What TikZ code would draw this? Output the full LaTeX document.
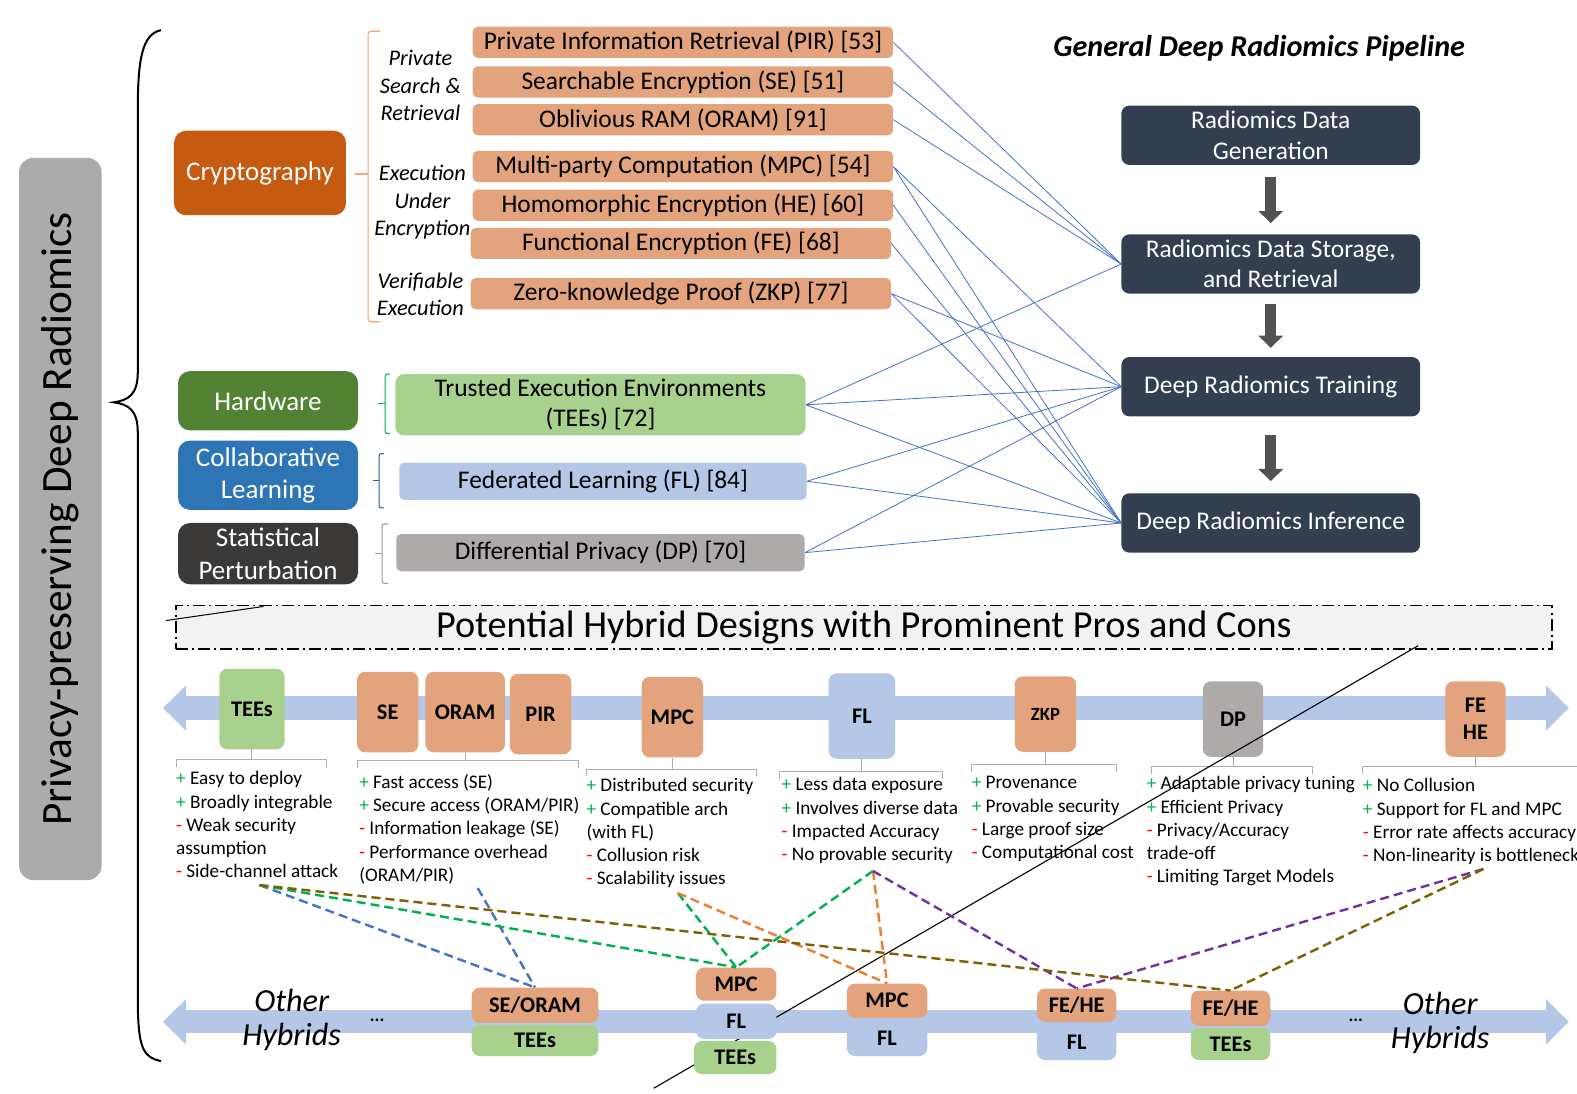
\documentclass[tikz,border=0pt]{standalone}
\usepackage{fontspec}
\setmainfont{Carlito}
\usetikzlibrary{arrows.meta,positioning,calc}
\definecolor{rdCrypto}{HTML}{C55A11}
\definecolor{rdOrange}{HTML}{E3A47D}
\definecolor{rdBrk}{HTML}{F4A46E}
\definecolor{rdHw}{HTML}{548235}
\definecolor{rdCollab}{HTML}{2E75B6}
\definecolor{rdStat}{HTML}{3B3838}
\definecolor{rdGreen}{HTML}{A9D18E}
\definecolor{rdBlue}{HTML}{B4C7E7}
\definecolor{rdGray}{HTML}{AEAAAA}
\definecolor{rdNavy}{HTML}{333F50}
\definecolor{rdLink}{HTML}{4472C4}
\definecolor{rdPlus}{HTML}{00B050}
\definecolor{rdMinus}{HTML}{FF0000}
\definecolor{rdPurple}{HTML}{7030A0}
\definecolor{rdOlive}{HTML}{7F6000}
\definecolor{rdAmber}{HTML}{ED7D31}
\definecolor{rdSide}{HTML}{ABABAB}
\definecolor{rdHdr}{HTML}{F2F2F2}
\newcommand{\pro}{\textcolor{rdPlus}{+}\ }
\newcommand{\con}{\textcolor{rdMinus}{-}\ }

\begin{document}
\begin{tikzpicture}[
  x=1pt, y=-1pt, font=\fontsize{25.3}{30}\selectfont,
  side/.style={rounded corners=14pt,fill=rdSide,minimum width=718pt,minimum height=82pt,
               rotate=90,inner sep=0pt,font=\fontsize{43}{50}\selectfont},
  cat/.style={rounded corners=12pt,text=white,align=center,inner sep=0pt,minimum width=179pt,
              font=\fontsize{26.8}{32}\selectfont},
  tech/.style={rounded corners=5pt,fill=rdOrange,minimum width=418pt,minimum height=31pt,inner sep=0pt},
  grp/.style={align=center,font=\fontsize{22.2}{27}\selectfont\itshape},
  pipe/.style={rounded corners=8pt,fill=rdNavy,text=white,align=center,minimum width=297pt,
               minimum height=59pt,inner sep=0pt},
  pflow/.style={line width=11pt,draw=black!68,-{Triangle[width=24pt,length=12pt]}},
  link/.style={draw=rdLink,line width=0.8pt},
  flow/.style={line width=23pt,draw=rdBlue,
               {Triangle[width=44pt,length=23pt]}-{Triangle[width=44pt,length=23pt]}},
  hdr/.style={fill=rdHdr,draw=black,line width=1.8pt,dash pattern=on 12pt off 4pt on 2pt off 4pt,
              minimum width=1368pt,minimum height=43pt,inner sep=0pt,font=\fontsize{38}{44}\selectfont},
  chip/.style={rounded corners=8pt,inner sep=0pt,align=center,font=\fontsize{22.2}{27}\selectfont\bfseries},
  brk/.style={draw=black!32,line width=1pt},
  pc/.style={anchor=north west,inner sep=0pt,align=left,font=\fontsize{19.1}{23}\selectfont},
  hyb/.style={line width=2.4pt,dash pattern=on 9pt off 5pt},
  oth/.style={align=center,font=\fontsize{32}{34}\selectfont\itshape},
]
\useasboundingbox (0,0) rectangle (1568,1087);

% left title and brace
\node[side] (title) at (60,516) {Privacy-preserving Deep Radiomics};
\draw[line width=2pt] (160,30) .. controls (141,34) and (137,60) .. (137,110) -- (137,370)
  .. controls (137,392) and (128,398) .. (113,400) .. controls (128,402) and (137,408) .. (137,430)
  -- (137,990) .. controls (137,1040) and (141,1051) .. (160,1055);

% categories
\node[cat,fill=rdCrypto,minimum width=171pt,minimum height=84pt] (crypto) at (258.5,172) {Cryptography};
\node[cat,fill=rdHw,minimum height=59pt] (hw) at (266.5,398.5) {Hardware};
\node[cat,fill=rdCollab,minimum height=69pt] (collab) at (266.5,472.5) {Collaborative\\Learning};
\node[cat,fill=rdStat,minimum height=61pt] (stat) at (266.5,550.5) {Statistical\\Perturbation};

% brackets
\draw[rdBrk,line width=1.2pt,rounded corners=3pt] (378,31) -- (366,31) -- (366,320) -- (378,320);
\draw[rdBrk,line width=1.2pt] (366,173) -- (353,173);
\draw[rdPlus,line width=1pt,rounded corners=2pt] (388,372) -- (383,372) -- (383,431) -- (388,431);
\draw[rdPlus,line width=1pt] (383,401) -- (376,401);
\draw[rdCollab!80!black,line width=1pt,rounded corners=2pt] (382,451) -- (377,451) -- (377,505) -- (382,505);
\draw[rdCollab!80!black,line width=1pt] (377,478) -- (371,478);
\draw[black!40,line width=1pt,rounded corners=2pt] (386,521) -- (380,521) -- (380,580) -- (386,580);
\draw[black!40,line width=1pt] (380,550) -- (373,550);

\node[grp] (gSearch) at (418,85) {Private\\Search \&\\Retrieval};
\node[grp] (gExec) at (420,201) {Execution\\Under\\Encryption};
\node[grp] (gVerif) at (418,293) {Verifiable\\Execution};

% techniques
\node[tech] (pir)  at (679,42)  {Private Information Retrieval (PIR) [53]};
\node[tech] (se)   at (679,81.5) {Searchable Encryption (SE) [51]};
\node[tech] (oram) at (679,119) {Oblivious RAM (ORAM) [91]};
\node[tech] (mpc)  at (679,165.5) {Multi-party Computation (MPC) [54]};
\node[tech] (he)   at (679,204) {Homomorphic Encryption (HE) [60]};
\node[tech] (fe)   at (677,242) {Functional Encryption (FE) [68]};
\node[tech] (zkp)  at (677,292) {Zero-knowledge Proof (ZKP) [77]};
\node[tech,fill=rdGreen,minimum width=408pt,minimum height=61pt,align=center,rounded corners=9pt]
  (tee) at (597,402.5) {Trusted Execution Environments\\(TEEs) [72]};
\node[tech,fill=rdBlue,minimum width=405pt,minimum height=37pt] (fl) at (599.5,478.5) {Federated Learning (FL) [84]};
\node[tech,fill=rdGray,minimum width=406pt,minimum height=37pt] (dp) at (597,549.5) {Differential Privacy (DP) [70]};

% pipeline
\node[font=\fontsize{30}{34}\selectfont\bfseries\itshape] (ptitle) at (1252,48) {General Deep Radiomics Pipeline};
\node[pipe] (gen)   at (1263.5,134.5) {Radiomics Data\\Generation};
\node[pipe] (stor)  at (1263.5,262.5) {Radiomics Data Storage,\\and Retrieval};
\node[pipe] (train) at (1263.5,384.5) {Deep Radiomics Training};
\node[pipe] (inf)   at (1263.5,520)   {Deep Radiomics Inference};
\draw[pflow] ($(gen.south)+(0,12)$) -- ($(stor.north)-(0,11)$);
\draw[pflow] ($(stor.south)+(0,10)$) -- ($(train.north)-(0,9)$);
\draw[pflow] ($(train.south)+(0,18)$) -- ($(inf.north)-(0,12)$);

% technique -> stage
\draw[link] (pir.east) -- (stor.west);
\draw[link] (se.east) -- (stor.west);
\draw[link] (oram.east) -- (stor.west);
\draw[link] (mpc.east) -- (train.west) (mpc.east) -- (inf.west);
\draw[link] (he.east) -- (inf.west);
\draw[link] (fe.east) -- (inf.west);
\draw[link] (zkp.east) -- (train.west) (zkp.east) -- (inf.west);
\draw[link] (tee.east) -- (stor.west) (tee.east) -- (train.west) (tee.east) -- (inf.west);
\draw[link] (fl.east) -- (train.west) (fl.east) -- (inf.west);
\draw[link] (dp.east) -- (train.west) (dp.east) -- (inf.west);

% hybrid designs header
\node[hdr] (hyb) at (859,623.5) {Potential Hybrid Designs with Prominent Pros and Cons};
\draw[line width=1pt] (165,617) -- (262,603);

% top row of techniques
\coordinate (tl) at (162,704);
\coordinate (tr) at (1560,704);
\draw[flow] (tl) -- (tr);
\node[chip,fill=rdGreen,minimum width=65pt,minimum height=80pt] (teeT) at (250.5,705) {TEEs};
\node[chip,fill=rdOrange,minimum width=61pt,minimum height=80pt] (seT) at (385.5,708) {SE};
\node[chip,fill=rdOrange,minimum width=79pt,minimum height=80pt] (oramT) at (462.5,708) {ORAM};
\node[chip,fill=rdOrange,minimum width=61pt,minimum height=80pt] (pirT) at (537.5,710) {PIR};
\node[chip,fill=rdOrange,minimum width=61pt,minimum height=80pt] (mpcT) at (668.5,713) {MPC};
\node[chip,fill=rdBlue,minimum width=66pt,minimum height=85pt] (flT) at (857,712) {FL};
\node[chip,fill=rdOrange,minimum width=61pt,minimum height=75pt,font=\fontsize{18.5}{22}\selectfont\bfseries] (zkpT) at (1039.5,710) {ZKP};
\node[chip,fill=rdGray,minimum width=60pt,minimum height=75pt] (dpT) at (1226,715) {DP};
\node[chip,fill=rdOrange,minimum width=60pt,minimum height=75pt] (fheT) at (1467,715) {FE\\HE};

% pros / cons brackets
\draw[brk] (175,763) |- (325,755) -- (325,763);   \draw[brk] (teeT.south) -- (teeT.south |- 0,755);
\draw[brk] (355,764) |- (575,756) -- (575,764);   \draw[brk] (oramT.south) -- (oramT.south |- 0,756);
\draw[brk] (583,772) |- (752,765) -- (752,772);   \draw[brk] (mpcT.south) -- (mpcT.south |- 0,765);
\draw[brk] (775,775) |- (937,767) -- (937,775);   \draw[brk] (flT.south) -- (flT.south |- 0,767);
\draw[brk] (966,768) |- (1110,760) -- (1110,768); \draw[brk] (zkpT.south) -- (zkpT.south |- 0,760);
\draw[brk] (1145,770) |- (1305,762) -- (1305,770); \draw[brk] (dpT.south) -- (dpT.south |- 0,762);
\draw[brk] (1355,770) |- (1575,762);              \draw[brk] (fheT.south) -- (fheT.south |- 0,762);

\node[pc] (pcTee) at (175,767) {\pro Easy to deploy\\\pro Broadly integrable\\\con Weak security\\assumption\\\con Side-channel attack};
\node[pc] (pcSe) at (357,770) {\pro Fast access (SE)\\\pro Secure access (ORAM/PIR)\\\con Information leakage (SE)\\\con Performance overhead\\(ORAM/PIR)};
\node[pc] (pcMpc) at (583,774) {\pro Distributed security\\\pro Compatible arch\\(with FL)\\\con Collusion risk\\\con Scalability issues};
\node[pc] (pcFl) at (777,773) {\pro Less data exposure\\\pro Involves diverse data\\\con Impacted Accuracy\\\con No provable security};
\node[pc] (pcZkp) at (966,772) {\pro Provenance\\\pro Provable security\\\con Large proof size\\\con Computational cost};
\node[pc] (pcDp) at (1140,772) {\pro Adaptable privacy tuning\\\pro Efficient Privacy\\\con Privacy/Accuracy\\trade-off\\\con Limiting Target Models};
\node[pc] (pcFe) at (1355,774) {\pro No Collusion\\\pro Support for FL and MPC\\\con Error rate affects accuracy\\\con Non-linearity is bottleneck};

% bottom row of hybrids
\coordinate (bl) at (162,1016);
\coordinate (br) at (1560,1016);
\draw[flow] (bl) -- (br);
\draw[line width=1.1pt] (1410,642) -- (650,1082);
\node[oth] (othL) at (290,1014) {Other\\Hybrids};
\node[oth] (othR) at (1432,1017) {Other\\Hybrids};
\node[font=\fontsize{18}{20}\selectfont\bfseries] (dotsL) at (375,1014) {...};
\node[font=\fontsize{18}{20}\selectfont\bfseries] (dotsR) at (1348,1014) {...};

\node[chip,fill=rdOrange,minimum width=126pt,minimum height=35pt] (s1a) at (532,999.5) {SE/ORAM};
\node[chip,fill=rdGreen,minimum width=126pt,minimum height=31pt] (s1b) at (532,1034.5) {TEEs};
\node[chip,fill=rdOrange,minimum width=80pt,minimum height=33pt] (s2a) at (732,978.5) {MPC};
\node[chip,fill=rdBlue,minimum width=80pt,minimum height=35pt] (s2b) at (732,1015.5) {FL};
\node[chip,fill=rdGreen,minimum width=82pt,minimum height=33pt] (s2c) at (731,1051.5) {TEEs};
\node[chip,fill=rdOrange,minimum width=80pt,minimum height=34pt] (s3a) at (882,995) {MPC};
\node[chip,fill=rdBlue,minimum width=80pt,minimum height=35pt] (s3b) at (882,1032.5) {FL};
\node[chip,fill=rdOrange,minimum width=79pt,minimum height=33pt] (s4a) at (1070.5,999.5) {FE/HE};
\node[chip,fill=rdBlue,minimum width=79pt,minimum height=35pt] (s4b) at (1070.5,1036.5) {FL};
\node[chip,fill=rdOrange,minimum width=79pt,minimum height=35pt] (s5a) at (1223.5,1002.5) {FE/HE};
\node[chip,fill=rdGreen,minimum width=79pt,minimum height=32pt] (s5b) at (1223.5,1038) {TEEs};

% which pros/cons combine
\coordinate (oTee) at (258,880);
\coordinate (oSe)  at (475,883);
\coordinate (oMpc) at (674,888);
\coordinate (oFl)  at (868,866);
\coordinate (oFe)  at (1475,864);
\draw[hyb,rdLink]   (oTee) -- (s1a.north);
\draw[hyb,rdLink]   (oSe) -- (s1a.north);
\draw[hyb,rdPlus]   (oTee) -- (s2a.north);
\draw[hyb,rdPlus]   (oMpc) -- (s2a.north);
\draw[hyb,rdPlus]   (oFl) -- (s2a.north);
\draw[hyb,rdAmber]  (oMpc) -- (s3a.north);
\draw[hyb,rdAmber]  (oFl) -- (s3a.north);
\draw[hyb,rdPurple] (oFl) -- (s4a.north);
\draw[hyb,rdPurple] (oFe) -- (s4a.north);
\draw[hyb,rdOlive]  (oTee) -- (s5a.north);
\draw[hyb,rdOlive]  (oFe) -- (s5a.north);
\end{tikzpicture}
\end{document}
